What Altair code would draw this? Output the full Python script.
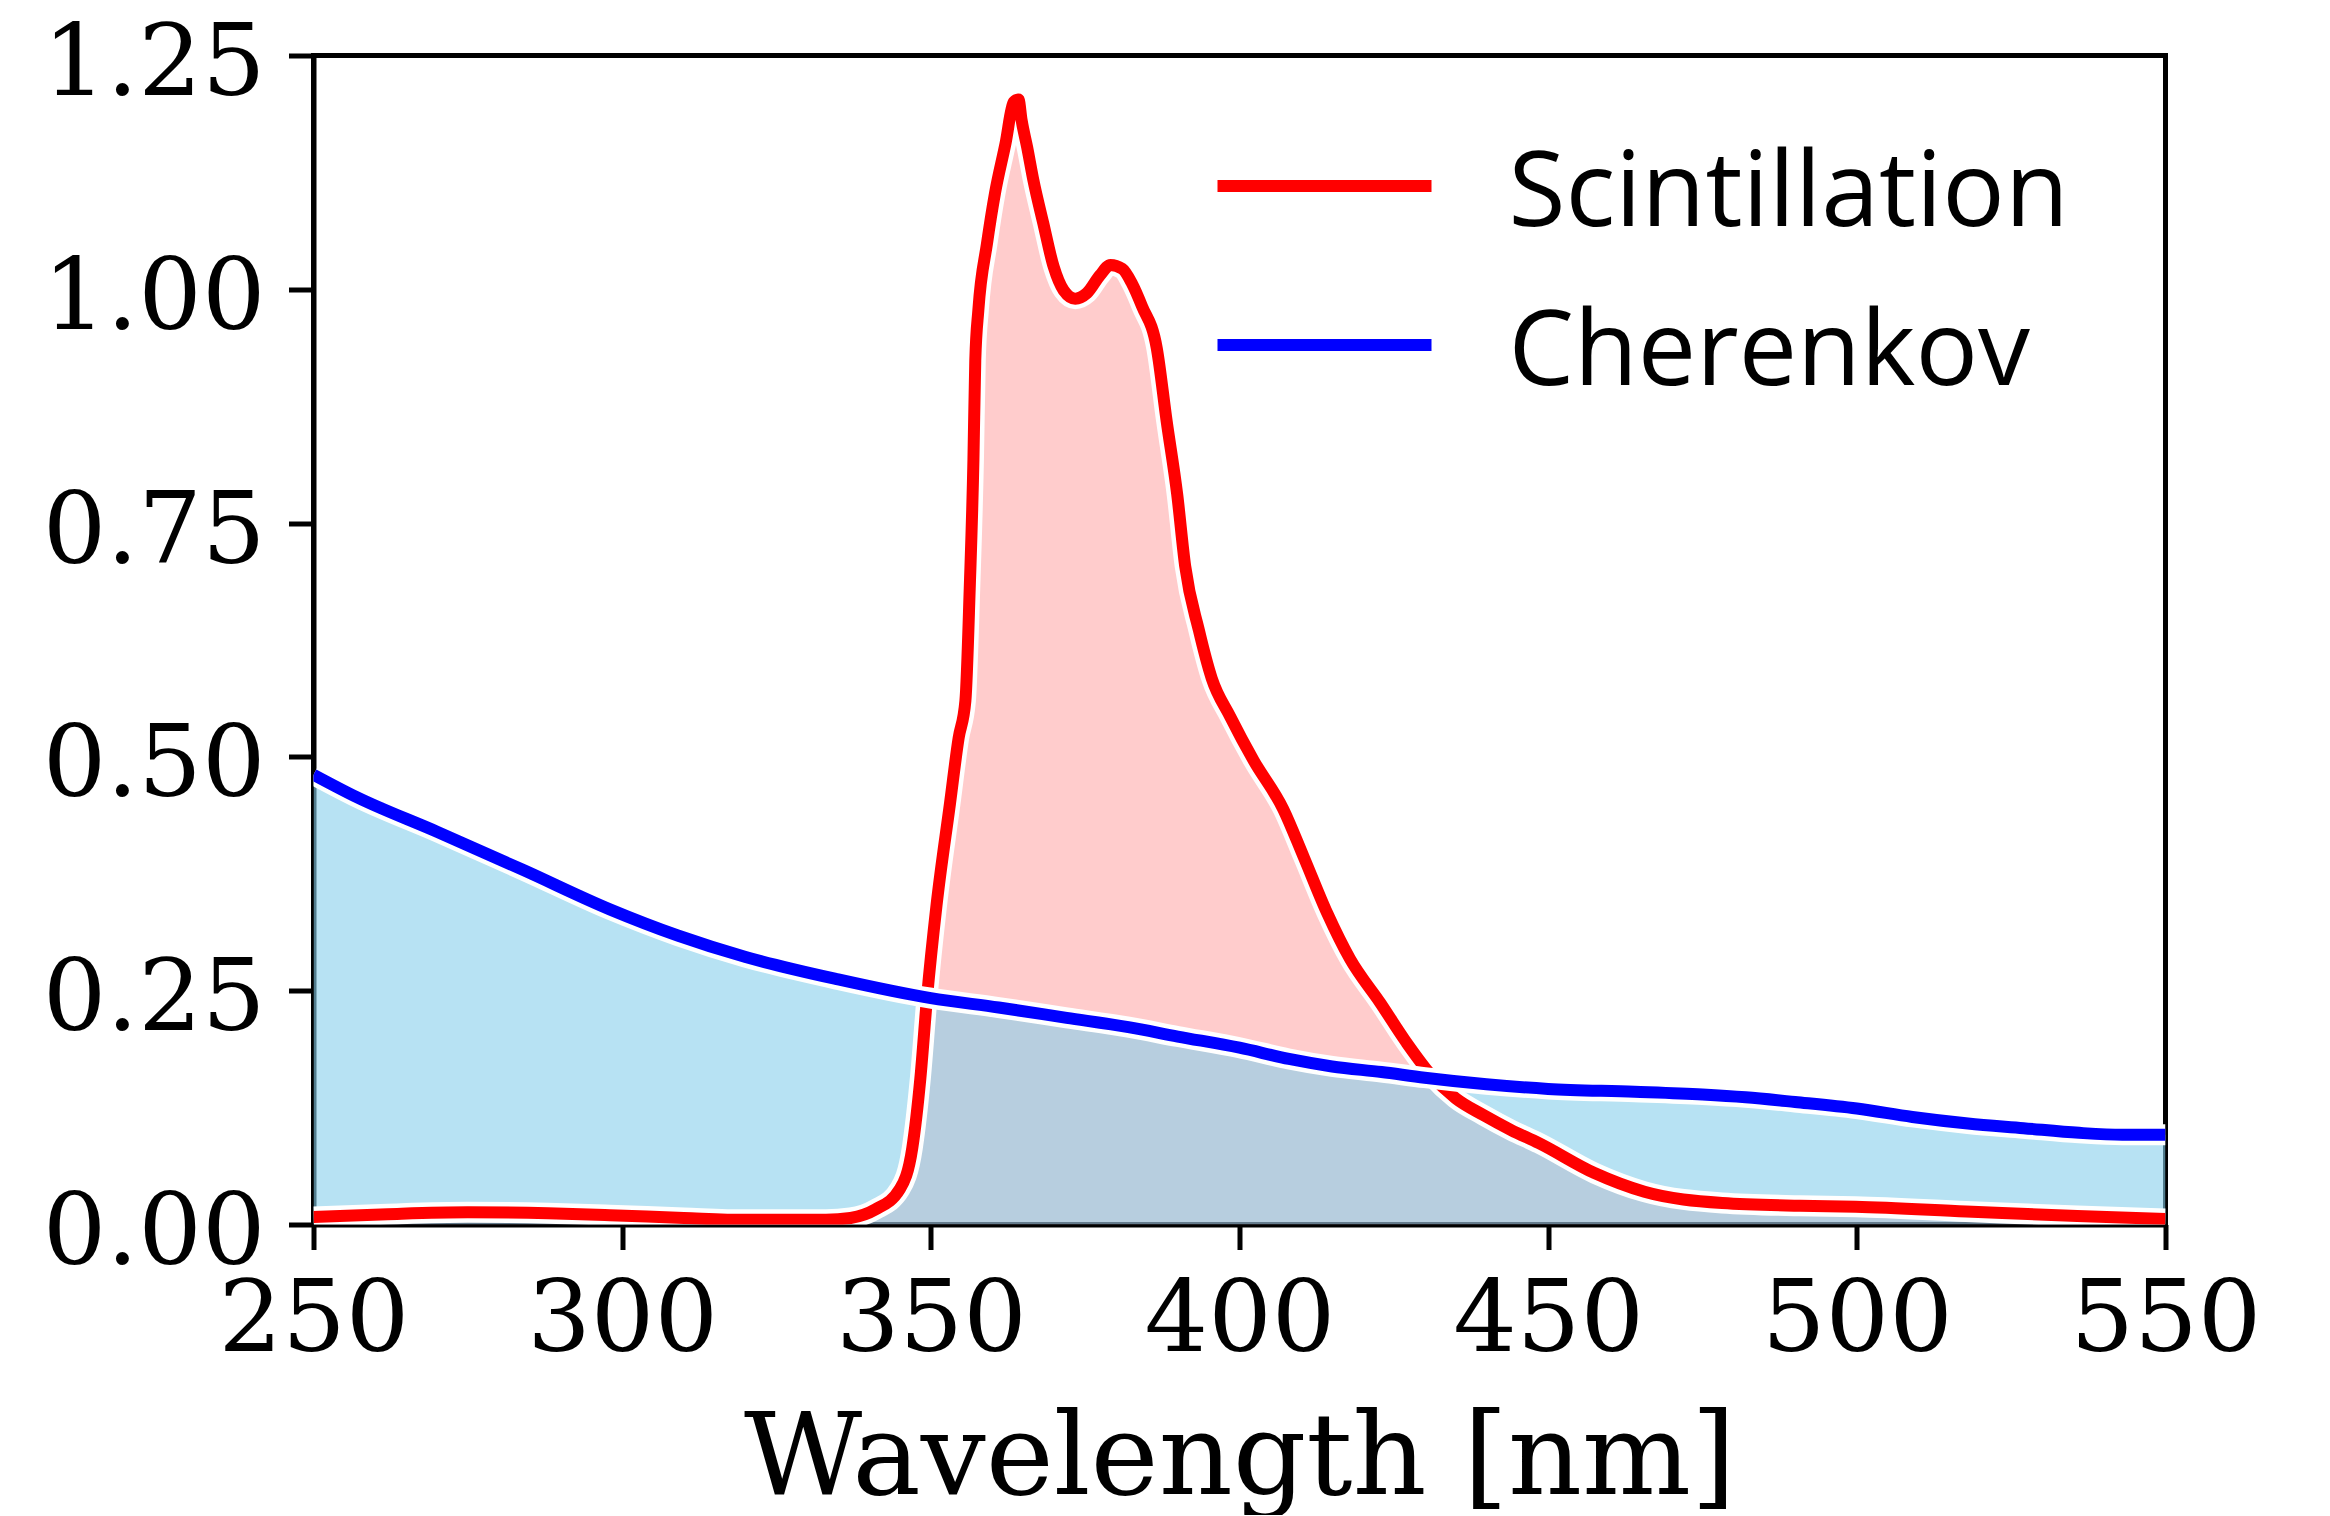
import altair as alt
import pandas as pd

# ---- data ----
scint_nm = [250, 262, 275, 288, 298, 310, 320, 333, 337, 341, 345, 347, 348.3, 349.4,
            350.9, 353.1, 354.5, 355.6, 356.3, 356.9, 357.2, 357.7, 359.1, 360.4, 362.1,
            363.4, 364.2, 364.7, 365.6, 366.6, 368.2, 369.9, 371.5, 373.4, 375.3, 377.4,
            379.1, 381, 382.6, 384.2, 386.6, 388.2, 389.9, 391.2, 393.4, 395.5, 398.5,
            402.3, 407.1, 410.4, 414.2, 417.9, 422.8, 427, 431, 435, 439.5, 444,
            448.5, 457.5, 465.6, 478.2, 490.8, 499.8, 517.7, 535.7, 550]
scint_val = [0.008, 0.011, 0.013, 0.012, 0.010, 0.007, 0.005, 0.005, 0.007, 0.016, 0.038,
             0.082, 0.156, 0.244, 0.34, 0.45, 0.52, 0.56, 0.68, 0.8175, 0.924, 0.978, 1.049,
             1.103, 1.156, 1.20, 1.203, 1.181, 1.152, 1.117, 1.071, 1.024, 0.999, 0.990,
             0.996, 1.015, 1.026, 1.022, 1.006, 0.982, 0.937, 0.859, 0.781, 0.704, 0.636,
             0.584, 0.543, 0.496, 0.444, 0.393, 0.333, 0.284, 0.237, 0.195, 0.160,
             0.135, 0.117, 0.101, 0.087, 0.055, 0.035, 0.023, 0.020, 0.019, 0.014, 0.009, 0.006]

cher_nm = [250, 257, 270, 284, 298, 309, 320, 335, 350, 361, 372, 382, 390, 400, 408,
           415, 423, 430, 440, 450, 464, 475, 482, 490, 500, 509, 518, 527, 536, 543, 550]
cher_val = [0.481, 0.457, 0.420, 0.379, 0.337, 0.309, 0.286, 0.262, 0.242, 0.232,
            0.221, 0.211, 0.201, 0.189, 0.177, 0.169, 0.163, 0.157, 0.150, 0.145, 0.142,
            0.139, 0.136, 0.131, 0.124, 0.115, 0.108, 0.103, 0.098, 0.096, 0.096]

legend_labels = ["Scintillation", "Cherenkov"]
legend_colors = ["#ff0000", "#0000ff"]
legend_rows = [0, 1]
x_ticks = [250, 300, 350, 400, 450, 500, 550]
y_ticks = [0.0, 0.25, 0.5, 0.75, 1.0, 1.25]

scint = pd.DataFrame({"nm": scint_nm, "val": scint_val})
cher = pd.DataFrame({"nm": cher_nm, "val": cher_val})
leg = pd.DataFrame({"series": legend_labels, "color": legend_colors, "row": legend_rows})

W, H = 1852, 1169

x_enc = alt.X("nm:Q", scale=alt.Scale(domain=[250, 550], nice=False, zero=False),
              axis=alt.Axis(values=x_ticks, format="d", title="Wavelength [nm]"))
y_enc = alt.Y("val:Q", scale=alt.Scale(domain=[0, 1.25], nice=False),
              axis=alt.Axis(values=y_ticks, format=".2f", title=None))

area_r = alt.Chart(scint).mark_area(color="#ff0000", opacity=0.2, interpolate="monotone",
                                     clip=True).encode(x=x_enc, y=y_enc)
area_b = alt.Chart(cher).mark_area(color="#87ceeb", opacity=0.6, interpolate="monotone",
                                    clip=True).encode(x=x_enc, y=y_enc)
halo_r = alt.Chart(scint).mark_line(color="white", strokeWidth=21, interpolate="monotone",
                                     strokeJoin="round", clip=True).encode(x=x_enc, y=y_enc)
line_r = alt.Chart(scint).mark_line(color="#ff0000", strokeWidth=12, interpolate="monotone",
                                     strokeJoin="round", clip=True).encode(x=x_enc, y=y_enc)
halo_b = alt.Chart(cher).mark_line(color="white", strokeWidth=21, interpolate="monotone",
                                    strokeJoin="round", clip=True).encode(x=x_enc, y=y_enc)
line_b = alt.Chart(cher).mark_line(color="#0000ff", strokeWidth=12, interpolate="monotone",
                                    strokeJoin="round", clip=True).encode(x=x_enc, y=y_enc)

main = alt.layer(area_r, area_b, halo_r, line_r, halo_b, line_b)

leg_y = alt.Y("row:Q", scale=alt.Scale(domain=[0, 1], range=[130.5, 289.5], nice=False,
                                        zero=False), axis=None)
leg_rules = alt.Chart(leg).mark_rule(strokeWidth=12).encode(
    x=alt.value(904), x2=alt.value(1118), y=leg_y,
    color=alt.Color("color:N", scale=None))
leg_text = alt.Chart(leg).mark_text(font="Open Sans", fontSize=104, align="left",
                                    baseline="alphabetic", dy=40, color="black").encode(
    x=alt.value(1195), y=leg_y, text="series:N")
legend = alt.layer(leg_rules, leg_text)

chart = alt.layer(main, legend).resolve_scale(y="independent").properties(
    width=W, height=H,
    autosize=alt.AutoSizeParams(type="none"),
    padding={"left": 305.5, "top": 47.5, "right": 120, "bottom": 290},
    background="white",
).configure_axis(
    domainColor="black", domainWidth=5, tickColor="black", tickWidth=5, tickSize=25,
    labelFont="DejaVu Serif", labelFontSize=100, labelColor="black", labelLimit=0,
    titleFont="DejaVu Serif", titleFontSize=115, titleColor="black", titleFontWeight="normal",
    titleLimit=0, grid=False, labelFlush=False, labelOverlap=False, zindex=1,
).configure_axisX(
    labelPadding=22, titleY=268.5, titleBaseline="alphabetic",
).configure_axisY(
    labelPadding=23.5, labelOffset=9,
).configure_view(stroke="black", strokeWidth=5)

chart.save("out.html", embed_options={"renderer": "svg", "actions": False})
